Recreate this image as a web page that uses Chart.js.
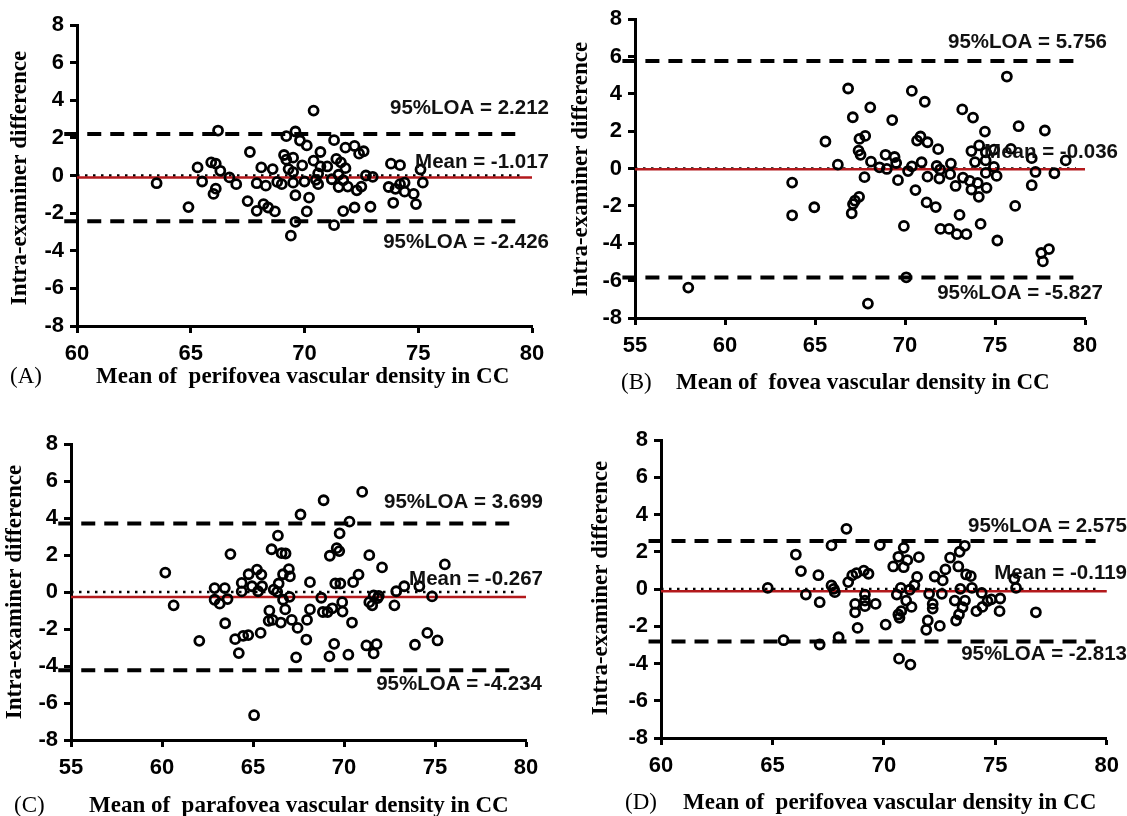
<!DOCTYPE html>
<html>
<head>
<meta charset="utf-8">
<script src="https://cdn.jsdelivr.net/npm/chart.js@4.4.0/dist/chart.umd.min.js"></script>
<style>
  body { margin: 0; background: #fff; }
  #wrap { position: relative; width: 1127px; height: 816px; overflow: hidden; }
  .panel { position: absolute; }
</style>
</head>
<body>
<div id="wrap">
  <div class="panel" style="left:0;top:0;width:563px;height:408px"><canvas id="chartA"></canvas></div>
  <div class="panel" style="left:563px;top:0;width:564px;height:408px"><canvas id="chartB"></canvas></div>
  <div class="panel" style="left:0;top:408px;width:563px;height:408px"><canvas id="chartC"></canvas></div>
  <div class="panel" style="left:563px;top:408px;width:564px;height:408px"><canvas id="chartD"></canvas></div>
</div>
<script>
// (A) perifovea
const aMean = [63.5, 64.9, 65.3, 65.5, 65.9, 66.1, 66.2, 66.1, 66.0, 66.3, 66.7, 67.0, 67.6, 67.5, 67.9, 67.9, 68.1, 68.3, 68.2, 68.4,
  68.7, 68.6, 68.8, 69.0, 69.1, 69.2, 69.2, 69.3, 69.5, 69.6, 69.5, 69.5, 69.6, 69.6, 69.4, 69.8, 69.9, 70.0, 70.1, 70.2,
  70.1, 70.4, 70.4, 70.5, 70.6, 70.6, 70.7, 70.7, 71.0, 71.2, 71.3, 71.3, 71.4, 71.5, 71.5, 71.6, 71.7, 71.7, 71.8, 71.8,
  71.9, 72.2, 72.2, 72.4, 72.3, 72.5, 72.6, 72.7, 72.9, 73.0, 73.7, 73.8, 73.9, 74.0, 74.2, 74.2, 74.4, 74.4, 74.8, 74.9,
  75.1, 75.2];
const aDiff = [-0.41, -1.68, 0.43, -0.32, 0.70, 0.63, 2.39, -0.70, -0.98, 0.25, -0.10, -0.46, 1.25, -1.36, -1.88, -0.41, 0.43, -0.54, -1.52, -1.70,
  -1.91, 0.34, -0.34, -0.46, 1.09, 0.84, 2.09, 0.34, 0.95, 2.34, 0.18, -0.38, -1.05, -2.46, -3.20, 1.86, 0.54, -0.32, 1.60, -1.18,
  -1.91, 3.45, 0.79, -0.23, 0.11, -0.46, 1.25, 0.48, 0.48, -0.20, -2.64, 1.88, 0.88, 0.04, -0.61, 0.70, -0.25, -1.89, 1.48, 0.39,
  -0.59, 1.57, -1.70, 1.16, -0.79, -0.59, 1.29, 0.00, -1.66, -0.07, -0.61, 0.63, -1.45, -0.71, -0.46, 0.55, -0.86, -0.38, -0.98, -1.52,
  0.32, -0.38];
const aLimits = [2.212, -0.107, -2.426];
const aNotes = ['95%LOA = 2.212', 'Mean = -1.017', '95%LOA = -2.426'];

// (B) fovea
const bMean = [57.96, 63.73, 63.73, 64.96, 65.58, 66.27, 75.66, 66.84, 70.38, 71.10, 68.07, 73.18, 73.78, 67.10, 69.29, 76.31, 77.77, 74.44, 67.79, 67.47,
  70.86, 70.67, 71.25, 71.84, 67.42, 67.53, 68.11, 68.92, 69.42, 69.51, 68.58, 68.99, 67.75, 69.61, 70.17, 70.38, 70.92, 70.58, 71.25, 71.76,
  71.95, 71.91, 72.55, 72.51, 72.81, 73.22, 73.60, 73.69, 74.04, 74.10, 74.53, 73.69, 74.12, 74.49, 73.89, 74.48, 74.49, 74.94, 75.09, 75.88,
  74.95, 77.04, 77.25, 77.04, 78.30, 78.93, 76.12, 75.13, 74.20, 73.03, 71.97, 72.45, 72.88, 73.41, 71.20, 71.71, 69.94, 67.45, 67.22, 67.11,
  67.04, 77.57, 78.00, 77.66, 70.07, 67.94];
const bDiff = [-6.37, -0.75, -2.50, -2.07, 1.45, 0.21, 4.93, 4.29, 4.16, 3.58, 3.28, 3.17, 2.73, 2.75, 2.60, 2.27, 2.04, 1.98, 1.75, 1.59,
  1.72, 1.50, 1.41, 1.04, 0.96, 0.74, 0.37, 0.74, 0.62, 0.30, 0.07, -0.02, -0.46, -0.62, -0.13, 0.12, 0.34, -1.15, -0.43, 0.14,
  -0.05, -0.53, 0.27, -0.30, -0.93, -0.48, -0.66, -1.12, -0.77, -1.51, -1.03, 0.94, 1.24, 0.87, 0.35, 0.44, -0.23, 0.09, -0.39, 1.06,
  1.02, 0.56, -0.18, -0.89, -0.25, 0.44, -2.00, -3.85, -2.96, -2.48, -3.23, -3.23, -3.51, -3.51, -1.81, -2.06, -3.07, -1.51, -1.72, -1.90,
  -2.39, -4.52, -4.31, -4.97, -5.82, -7.23];
const bLimits = [5.756, -0.036, -5.827];
const bNotes = ['95%LOA = 5.756', 'Mean = -0.036', '95%LOA = -5.827'];

// (C) parafovea
const cMean = [60.18, 60.64, 62.05, 62.89, 62.89, 63.17, 63.45, 63.60, 63.47, 63.76, 64.02, 64.38, 64.38, 64.22, 64.46, 64.74, 64.76, 64.94, 65.22, 65.46,
  65.28, 65.50, 65.42, 65.06, 66.02, 66.37, 65.90, 65.86, 66.08, 66.14, 66.41, 66.33, 66.53, 66.57, 66.79, 66.65, 66.77, 66.65, 66.97, 67.03,
  67.01, 67.13, 67.45, 67.37, 67.61, 68.13, 68.13, 67.97, 67.93, 68.75, 68.84, 68.88, 69.10, 69.22, 69.36, 69.46, 69.20, 69.52, 69.60, 69.74,
  69.76, 69.80, 69.90, 69.92, 70.30, 70.24, 70.44, 70.50, 70.80, 71.00, 71.39, 71.23, 71.39, 71.55, 71.63, 71.63, 71.79, 71.85, 71.91, 72.09,
  72.77, 72.87, 73.31, 73.90, 74.14, 74.58, 74.84, 75.14, 75.54];
const cDiff = [1.05, -0.72, -2.64, 0.21, -0.42, -0.63, 0.21, -0.38, -1.69, 2.05, -2.55, 0.49, 0.03, -3.30, -2.37, -2.33, 0.96, 0.31, 1.21, 0.94,
  0.04, 0.31, -2.21, -6.66, 2.31, 3.05, -1.01, -1.56, -1.51, 0.13, 0.46, 0.01, -1.65, 2.10, 2.08, -0.42, -0.94, 0.96, 1.24, 0.85,
  -0.26, -1.51, -1.94, -3.53, 4.19, 0.53, -0.94, -1.51, -2.57, -0.31, -1.08, 4.96, -1.08, 1.96, -0.88, -2.80, -3.48, 0.46, 2.37, 2.21,
  3.17, 0.46, -0.55, -1.06, 3.80, -3.39, -1.65, 0.53, 0.94, 5.41, 1.99, -2.89, -0.55, -0.72, -0.19, -3.32, -2.82, -0.33, -0.21, 1.33,
  -0.72, 0.04, 0.31, -2.85, 0.31, -2.21, -0.24, -2.62, 1.49];
const cLimits = [3.699, -0.267, -4.234];
const cNotes = ['95%LOA = 3.699', 'Mean = -0.267', '95%LOA = -4.234'];

// (D) perifovea
const dMean = [64.79, 65.50, 66.05, 66.28, 66.50, 67.06, 67.12, 67.12, 67.65, 67.65, 67.75, 67.80, 67.97, 68.32, 68.40, 68.58, 68.77, 68.71, 68.71, 68.82,
  69.10, 69.31, 69.15, 69.15, 69.15, 69.63, 69.82, 70.08, 70.42, 70.58, 70.65, 70.89, 70.89, 71.05, 70.76, 71.00, 70.65, 70.70, 70.78, 70.68,
  71.19, 71.16, 71.24, 71.37, 71.49, 71.57, 72.03, 71.97, 71.90, 72.19, 72.19, 72.28, 72.51, 72.60, 72.64, 72.76, 72.97, 73.18, 73.24, 73.37,
  73.34, 73.40, 73.63, 73.43, 73.53, 73.64, 73.69, 73.90, 73.95, 74.15, 74.39, 74.42, 74.65, 74.82, 75.22, 75.19, 75.85, 75.93, 76.82];
const dDiff = [0.06, -2.75, 1.85, 0.96, -0.30, 0.74, -0.71, -2.98, 2.34, 0.19, 0.01, -0.17, -2.59, 3.23, 0.37, 0.73, 0.85, -0.80, -1.25, -2.09,
  0.99, 0.82, -0.30, -0.62, -0.92, -0.80, 2.36, -1.91, 1.21, -0.30, 1.73, 2.21, 1.17, 1.55, 0.06, -0.62, -1.37, -1.55, -1.19, -3.74,
  -4.06, -0.04, -0.96, 0.21, 0.65, 1.71, -0.26, -1.69, -2.19, -0.80, -1.05, 0.67, -1.98, -0.26, 0.46, 1.05, 1.68, -0.62, -1.69, -1.37,
  1.21, 2.00, 2.32, 0.01, -0.98, -0.62, 0.78, 0.69, 0.06, -1.19, -0.21, -0.96, -0.65, -0.56, -0.51, -1.19, 0.55, 0.06, -1.25];
const dLimits = [2.575, -0.119, -2.813];
const dNotes = ['95%LOA = 2.575', 'Mean = -0.119', '95%LOA = -2.813'];

const yTitle = 'Intra-examiner difference';
const yRange = [-8, 8];

const sans = '"Liberation Sans", Arial, sans-serif';
const serif = '"Liberation Serif", "Times New Roman", serif';

// draws the LOA notes and the axis titles
const panelText = {
  id: 'panelText',
  afterDraw(chart, args, o) {
    const ctx = chart.ctx;
    const ys = chart.scales.y;
    ctx.save();
    ctx.fillStyle = '#111';
    ctx.textBaseline = 'middle';
    ctx.font = 'bold 20.5px ' + sans;
    ctx.textAlign = 'right';
    o.notes.forEach((t, i) => {
      ctx.fillText(t, o.noteX[i], ys.getPixelForValue(o.limits[i]) + o.noteDy[i]);
    });

    ctx.fillStyle = '#000';
    ctx.textAlign = 'left';
    ctx.font = '23px ' + serif;
    ctx.fillText(o.tag, o.tagX, o.titleY);
    ctx.font = 'bold 23px ' + serif;
    ctx.fillText(o.title, o.titleX, o.titleY);

    ctx.translate(o.yTitleAt[0], o.yTitleAt[1]);
    ctx.rotate(-Math.PI / 2);
    ctx.textAlign = 'center';
    ctx.fillText(yTitle, 0, 0);
    ctx.restore();
  }
};

function hline(v, from, to) {
  return [{ x: from, y: v }, { x: to, y: v }];
}

function makePanel(id, p) {
  const x0 = p.xRange[0], x1 = p.xRange[1];
  const stub = (x1 - x0) * 0.028;
  const points = p.xs.map((x, i) => ({ x: x, y: p.ys[i] }));
  const lineStyle = { showLine: true, pointRadius: 0, clip: false, order: 2, borderColor: '#000' };
  const tickFont = { family: sans, size: 22, weight: 'bold' };

  new Chart(document.getElementById(id), {
    type: 'scatter',
    data: {
      datasets: [
        { data: points, pointRadius: 4.5, pointHoverRadius: 4.5, borderWidth: 2.8, borderColor: '#000', backgroundColor: 'rgba(0,0,0,0)', order: 0 },
        Object.assign({ data: hline(p.limits[0], x0 - stub, x1 - 0.5), borderWidth: 4, borderDash: [14, 9] }, lineStyle),
        Object.assign({ data: hline(p.limits[2], x0 - stub, x1 - 0.5), borderWidth: 4, borderDash: [14, 9] }, lineStyle),
        Object.assign({ data: hline(0, x0, x1 - 0.5), borderWidth: 2.5, borderDash: [2.5, 5.5] }, lineStyle),
        Object.assign({}, lineStyle, { data: hline(p.limits[1], x0, x1), borderWidth: 2.5, borderColor: '#b3191c', order: 1 })
      ]
    },
    options: {
      responsive: true,
      maintainAspectRatio: false,
      animation: false,
      devicePixelRatio: 1,
      layout: { padding: { top: p.box.top, right: p.box.right, left: 0, bottom: 0 } },
      plugins: {
        legend: { display: false },
        tooltip: { enabled: false },
        panelText: {
          notes: p.notes, limits: p.limits, noteX: p.noteX, noteDy: p.noteDy,
          tag: p.tag, tagX: p.tagX, title: p.title, titleX: p.titleX, titleY: p.titleY,
          yTitleAt: p.yTitleAt
        }
      },
      scales: {
        x: {
          type: 'linear', min: x0, max: x1,
          ticks: { stepSize: 5, color: '#000', padding: 8, font: tickFont },
          grid: { drawOnChartArea: false, tickLength: 7, tickWidth: 3, tickColor: '#000' },
          border: { color: '#000', width: 3 },
          afterFit: s => { s.height = p.box.xh; }
        },
        y: {
          min: yRange[0], max: yRange[1],
          ticks: { stepSize: 2, color: '#000', padding: 6, font: tickFont },
          grid: { drawOnChartArea: false, tickLength: 7, tickWidth: 3, tickColor: '#000' },
          border: { color: '#000', width: 3 },
          afterFit: s => { s.width = p.box.left; }
        }
      }
    },
    plugins: [panelText]
  });
}

makePanel('chartA', {
  xs: aMean, ys: aDiff, limits: aLimits, notes: aNotes, xRange: [60, 80],
  box: { left: 77, top: 25, right: 31, xh: 82 },
  noteX: [549, 549, 549], noteDy: [-26, -15, 21],
  tag: '(A)', tagX: 10, title: 'Mean of  perifovea vascular density in CC', titleX: 96, titleY: 377,
  yTitleAt: [20, 178]
});

makePanel('chartB', {
  xs: bMean, ys: bDiff, limits: bLimits, notes: bNotes, xRange: [55, 80],
  box: { left: 72, top: 19, right: 42, xh: 90 },
  noteX: [544, 555, 540], noteDy: [-19, -17, 16],
  tag: '(B)', tagX: 58, title: 'Mean of  fovea vascular density in CC', titleX: 113, titleY: 383,
  yTitleAt: [18, 169]
});

makePanel('chartC', {
  xs: cMean, ys: cDiff, limits: cLimits, notes: cNotes, xRange: [55, 80],
  box: { left: 71, top: 36, right: 37, xh: 76 },
  noteX: [543, 543, 542], noteDy: [-21, -18, 14],
  tag: '(C)', tagX: 14, title: 'Mean of  parafovea vascular density in CC', titleX: 89, titleY: 398,
  yTitleAt: [15, 184]
});

makePanel('chartD', {
  xs: dMean, ys: dDiff, limits: dLimits, notes: dNotes, xRange: [60, 80],
  box: { left: 98, top: 32, right: 12, xh: 78 },
  noteX: [564, 564, 564], noteDy: [-15, -18, 13],
  tag: '(D)', tagX: 62, title: 'Mean of  perifovea vascular density in CC', titleX: 120, titleY: 395,
  yTitleAt: [38, 180]
});
</script>
</body>
</html>
